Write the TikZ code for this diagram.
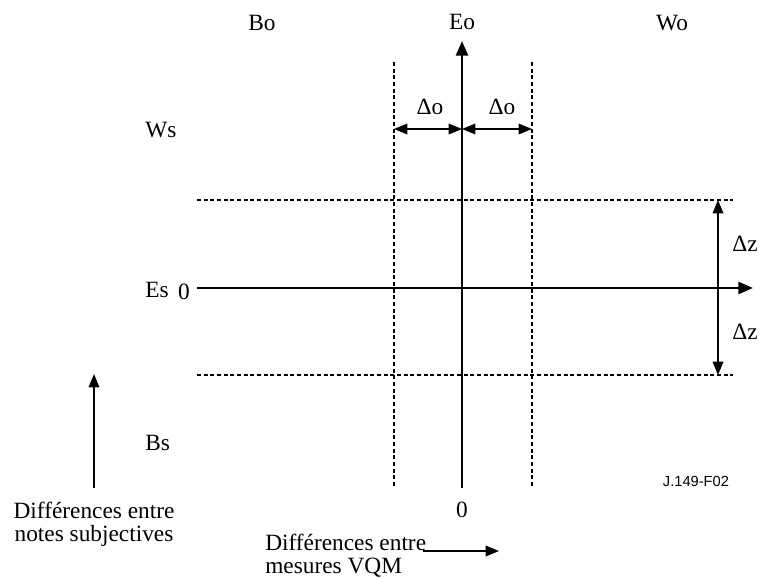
\documentclass[tikz,border=0pt]{standalone}
\usepackage{fontspec}
\setmainfont{Liberation Serif}
\newfontfamily\tagfont{Liberation Sans}
\usetikzlibrary{arrows.meta}

\tikzset{
  axis/.style={line width=1.9pt,-{Triangle[length=11pt,width=9pt]}},
  limit/.style={line width=1.5pt,dash pattern=on 3pt off 2pt},
  span/.style={line width=0.9pt,{Triangle[length=10pt,width=8pt]}-{Triangle[length=10pt,width=8pt]}},
  pointer/.style={line width=0.9pt,-{Triangle[length=10pt,width=8pt]}},
  lbl/.style={inner sep=0pt,font=\fontsize{17.5}{17.5}\selectfont}
}

\begin{document}
\begin{tikzpicture}[x=0.75pt,y=-0.75pt]
\useasboundingbox (0,0) rectangle (761,578);
{
% axes
\coordinate (vb) at (462,488);
\coordinate (vt) at (462,41);
\coordinate (hl) at (197,288);
\coordinate (hr) at (753,288);
\draw[axis] (vb)--(vt);
\draw[axis] (hl)--(hr);
%
\foreach \x/\n in {394/L,532/R}{
\coordinate (d\n t) at (\x,62);
\coordinate (d\n b) at (\x,488);
\draw[limit] (d\n t)--(d\n b);
}
\foreach \y/\n in {200/T,375/B}{
\coordinate (h\n l) at (197,\y);
\coordinate (h\n r) at (733,\y);
\draw[limit] (h\n l)--(h\n r);
}
% tolerances
\coordinate (oL) at (394,129);
\coordinate (oR) at (532,129);
\coordinate (oM) at (462,129);
\draw[span] (oM)--(oL);
\draw[span] (oM)--(oR);
\coordinate (zT) at (718,200);
\coordinate (zB) at (718,375);
\draw[span] (zT)--(zB);
\node[lbl] (do1) at (430,107) {Δo};
\node[lbl] (do2) at (502,107) {Δo};
\node[lbl,anchor=west] (dz1) at (732,244) {Δz};
\node[lbl,anchor=west] (dz2) at (732,332) {Δz};
% zones
\node[lbl] (bo) at (262,23) {Bo};
\node[lbl] (eo) at (462,22) {Eo};
\node[lbl] (wo) at (672,23) {Wo};
\node[lbl,anchor=west] (ws) at (145,130) {Ws};
\node[lbl,anchor=west] (es) at (145,290) {Es};
\node[lbl] (zh) at (184,292) {0};
\node[lbl,anchor=west] (bs) at (145,443) {Bs};
\node[lbl] (zv) at (462,510) {0};
% axis titles
\node[lbl,align=center] (subj) at (94,524) {Différences entre\\notes subjectives};
\coordinate (sb) at (94,488);
\coordinate (st) at (94,374);
\draw[pointer] (sb)--(st);
\node[lbl,align=left,anchor=west] (vqm) at (265,556) {Différences entre\\mesures VQM};
\coordinate (ml) at (423,551);
\coordinate (mr) at (499,551);
\draw[pointer] (ml)--(mr);
\node[inner sep=0pt,font=\tagfont\fontsize{11}{13}\selectfont] (tag) at (696,481) {J.149-F02};
}
\end{tikzpicture}
\end{document}
